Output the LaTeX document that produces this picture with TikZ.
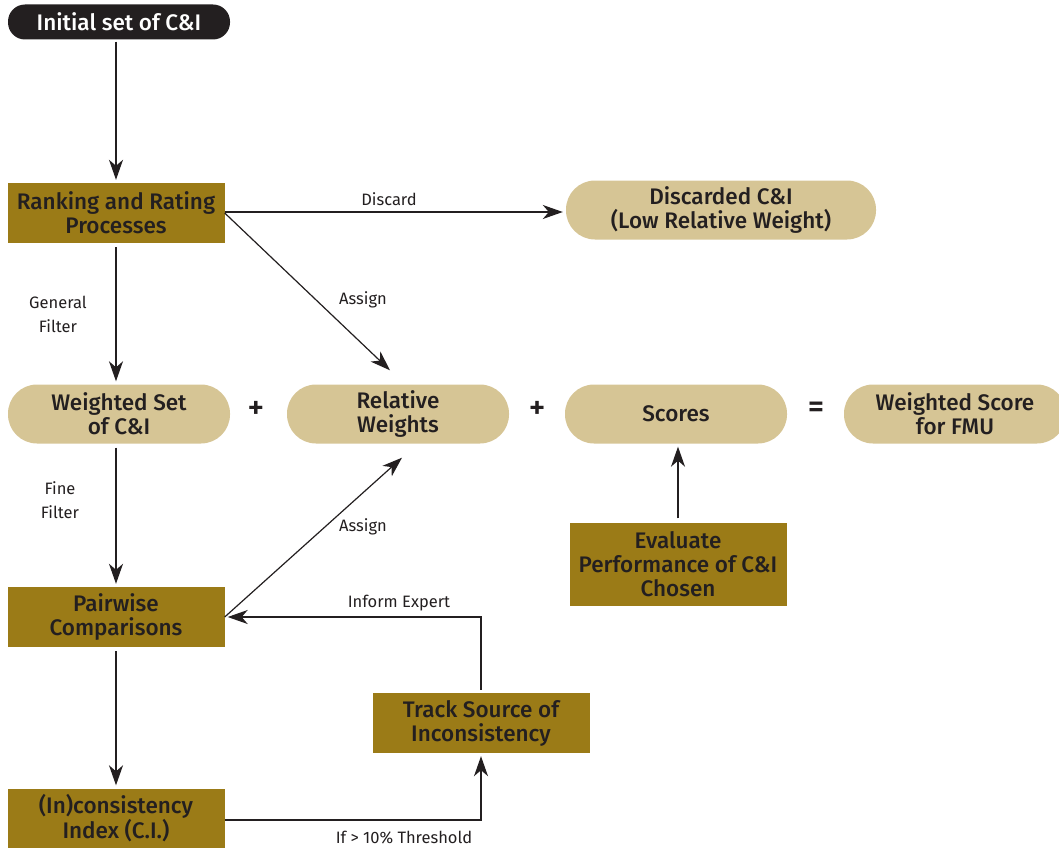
\documentclass[tikz,border=0pt]{standalone}
\usepackage{fontspec}
\setmainfont{Fira Sans}[BoldFont={Fira Sans Medium}]
\usetikzlibrary{arrows.meta}
\definecolor{olive}{RGB}{155,123,23}
\definecolor{tan}{RGB}{214,197,149}
\definecolor{ink}{RGB}{35,31,32}

\begin{document}
\begin{tikzpicture}
	[x=1pt,y=-1pt,
	box/.style={rectangle,fill=olive,minimum width=217pt,minimum height=60pt,inner sep=0pt,align=center,text=ink,font=\fontsize{22.5}{24}\selectfont\bfseries},
	pill/.style={rectangle,rounded corners=29pt,fill=tan,minimum width=222pt,minimum height=59pt,inner sep=0pt,align=center,text=ink,font=\fontsize{22.5}{24}\selectfont\bfseries},
	lbl/.style={text=ink,align=center,font=\fontsize{16.5}{24}\selectfont},
	op/.style={text=ink,font=\fontsize{32}{32}\selectfont\bfseries},
	arr/.style={draw=ink,line width=1.2pt,shorten <=4pt,shorten >=3pt,-{Stealth[length=20pt,width=14pt,inset=6pt]}}]
	\useasboundingbox (0,0) rectangle (1059,848);
	
	\node[pill,fill=ink,text=white,rounded corners=17pt,minimum height=35pt] (init) at (119,22) {Initial set of C\&I};
	\node[box] (rank) at (116,213) {Ranking and Rating\\Processes};
	\node[pill,minimum width=310pt] (disc) at (721,210) {Discarded C\&I\\(Low Relative Weight)};
	\node[pill] (wset) at (119,414) {Weighted Set\\of C\&I};
	\node[pill] (rel) at (398,414) {Relative\\Weights};
	\node[pill] (scores) at (676,414) {Scores};
	\node[pill] (wscore) at (955,414) {Weighted Score\\for FMU};
	\node[box] (pair) at (116,617) {Pairwise\\Comparisons};
	\node[box,minimum height=83pt] (eval) at (678,564) {Evaluate\\Performance of C\&I\\Chosen};
	\node[box] (track) at (481,723) {Track Source of\\Inconsistency};
	\node[box,minimum height=59pt] (index) at (116,818) {(In)consistency\\Index (C.I.)};
	
	\node[op] (plus1) at (256,410) {+};
	\node[op] (plus2) at (537,410) {+};
	\node[op] (eq) at (816,410) {=};
	
	\node[lbl] (ldisc) at (389,199) {Discard};
	\node[lbl] (lassign1) at (363,300) {Assign};
	\node[lbl] (lgen) at (58,314) {General\\Filter};
	\node[lbl] (lfine) at (60,500) {Fine\\Filter};
	\node[lbl] (lassign2) at (363,527) {Assign};
	\node[lbl] (linform) at (399,603) {Inform Expert};
	\node[lbl] (lthresh) at (404,838) {If > 10\% Threshold};
	
	\draw[arr,shorten <=2pt] (rank.north |- init.south) -- (rank.north);
	\draw[arr] (rank.south) -- (rank.south |- wset.north);
	\draw[arr] (pair.north |- wset.south) -- (pair.north);
	\draw[arr] (pair.south) -- (index.north);
	\draw[arr,shorten <=0pt] ([yshift=1pt]rank.east) -- ([yshift=1pt]rank.east -| disc.west);
	\draw[arr,shorten <=0pt,shorten >=0pt] (rank.east) -- ([xshift=-8pt,yshift=14pt]rel.north);
	\draw[arr,shorten <=0pt,shorten >=0pt] (pair.east) -- ([xshift=4pt,yshift=-14pt]rel.south);
	\draw[arr] (eval.north) -- (eval.north |- scores.south);
	\draw[arr,shorten <=3pt,shorten >=3pt] (track.north) |- (pair.east);
	\draw[arr,shorten <=0pt] ([yshift=-2pt]index.east) -| (track.south);
\end{tikzpicture}
\end{document}
